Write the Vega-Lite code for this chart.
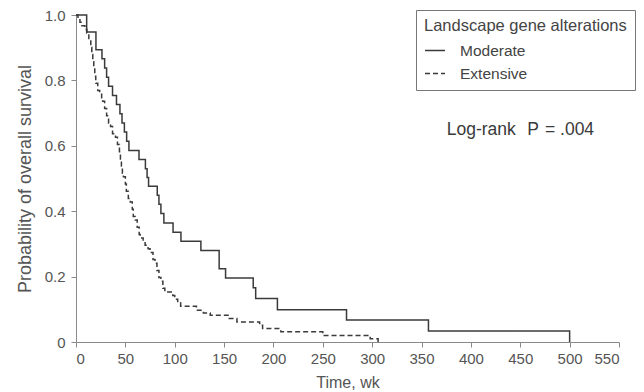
{
  "$schema": "https://vega.github.io/schema/vega-lite/v6.json",
  "width": 543,
  "height": 327,
  "autosize": {"type": "none"},
  "padding": {"left": 76, "top": 15, "right": 25, "bottom": 50},
  "background": "white",
  "config": {
    "view": {"stroke": null},
    "font": "Liberation Sans",
    "axis": {
      "grid": false,
      "domainColor": "#8a8a8a",
      "tickColor": "#8a8a8a",
      "labelColor": "#555555",
      "titleColor": "#555555",
      "labelFontSize": 15,
      "titleFontSize": 16,
      "titleFontWeight": "normal",
      "tickSize": 5
    },
    "legend": {
      "titleFontWeight": "normal",
      "titleFontSize": 16.5,
      "labelFontSize": 15.5,
      "titleColor": "#444444",
      "labelColor": "#444444",
      "titleLimit": 400,
      "labelLimit": 300
    }
  },
  "layer": [
    {
      "data": {
        "values": [
          {"group": "Moderate", "t": 0, "p": 1.0},
          {"group": "Moderate", "t": 10.8, "p": 0.948},
          {"group": "Moderate", "t": 20.2, "p": 0.894},
          {"group": "Moderate", "t": 26.3, "p": 0.866},
          {"group": "Moderate", "t": 29, "p": 0.838},
          {"group": "Moderate", "t": 31, "p": 0.81},
          {"group": "Moderate", "t": 33, "p": 0.782},
          {"group": "Moderate", "t": 37, "p": 0.754},
          {"group": "Moderate", "t": 41, "p": 0.726},
          {"group": "Moderate", "t": 44.5, "p": 0.698},
          {"group": "Moderate", "t": 46.6, "p": 0.67},
          {"group": "Moderate", "t": 49, "p": 0.642},
          {"group": "Moderate", "t": 51.3, "p": 0.614},
          {"group": "Moderate", "t": 53.6, "p": 0.586},
          {"group": "Moderate", "t": 63.8, "p": 0.558},
          {"group": "Moderate", "t": 70.3, "p": 0.53},
          {"group": "Moderate", "t": 72, "p": 0.503},
          {"group": "Moderate", "t": 73.5, "p": 0.476},
          {"group": "Moderate", "t": 82.3, "p": 0.449},
          {"group": "Moderate", "t": 84, "p": 0.421},
          {"group": "Moderate", "t": 86, "p": 0.393},
          {"group": "Moderate", "t": 89, "p": 0.364},
          {"group": "Moderate", "t": 98.3, "p": 0.336},
          {"group": "Moderate", "t": 106.3, "p": 0.308},
          {"group": "Moderate", "t": 126.5, "p": 0.28},
          {"group": "Moderate", "t": 145, "p": 0.224},
          {"group": "Moderate", "t": 151.5, "p": 0.196},
          {"group": "Moderate", "t": 179.5, "p": 0.166},
          {"group": "Moderate", "t": 182, "p": 0.133},
          {"group": "Moderate", "t": 204, "p": 0.099},
          {"group": "Moderate", "t": 274, "p": 0.067},
          {"group": "Moderate", "t": 357, "p": 0.034},
          {"group": "Moderate", "t": 500, "p": 0.0},
          {"group": "Extensive", "t": 0, "p": 1.0},
          {"group": "Extensive", "t": 2, "p": 0.989},
          {"group": "Extensive", "t": 4, "p": 0.978},
          {"group": "Extensive", "t": 6, "p": 0.967},
          {"group": "Extensive", "t": 9, "p": 0.956},
          {"group": "Extensive", "t": 11, "p": 0.945},
          {"group": "Extensive", "t": 13, "p": 0.923},
          {"group": "Extensive", "t": 15, "p": 0.901},
          {"group": "Extensive", "t": 16, "p": 0.879},
          {"group": "Extensive", "t": 17, "p": 0.857},
          {"group": "Extensive", "t": 18, "p": 0.835},
          {"group": "Extensive", "t": 19, "p": 0.813},
          {"group": "Extensive", "t": 20, "p": 0.791},
          {"group": "Extensive", "t": 22, "p": 0.769},
          {"group": "Extensive", "t": 24, "p": 0.758},
          {"group": "Extensive", "t": 26, "p": 0.747},
          {"group": "Extensive", "t": 27, "p": 0.736},
          {"group": "Extensive", "t": 29, "p": 0.714},
          {"group": "Extensive", "t": 31, "p": 0.692},
          {"group": "Extensive", "t": 33, "p": 0.67},
          {"group": "Extensive", "t": 35, "p": 0.659},
          {"group": "Extensive", "t": 37, "p": 0.637},
          {"group": "Extensive", "t": 40, "p": 0.626},
          {"group": "Extensive", "t": 42, "p": 0.604},
          {"group": "Extensive", "t": 44, "p": 0.582},
          {"group": "Extensive", "t": 45, "p": 0.56},
          {"group": "Extensive", "t": 46, "p": 0.538},
          {"group": "Extensive", "t": 47, "p": 0.516},
          {"group": "Extensive", "t": 48, "p": 0.505},
          {"group": "Extensive", "t": 50, "p": 0.483},
          {"group": "Extensive", "t": 51, "p": 0.461},
          {"group": "Extensive", "t": 53, "p": 0.439},
          {"group": "Extensive", "t": 55, "p": 0.428},
          {"group": "Extensive", "t": 57, "p": 0.406},
          {"group": "Extensive", "t": 58, "p": 0.384},
          {"group": "Extensive", "t": 60, "p": 0.373},
          {"group": "Extensive", "t": 62, "p": 0.351},
          {"group": "Extensive", "t": 64, "p": 0.329},
          {"group": "Extensive", "t": 65, "p": 0.318},
          {"group": "Extensive", "t": 68, "p": 0.307},
          {"group": "Extensive", "t": 70, "p": 0.296},
          {"group": "Extensive", "t": 73, "p": 0.285},
          {"group": "Extensive", "t": 75, "p": 0.274},
          {"group": "Extensive", "t": 78, "p": 0.252},
          {"group": "Extensive", "t": 80, "p": 0.241},
          {"group": "Extensive", "t": 82, "p": 0.219},
          {"group": "Extensive", "t": 84, "p": 0.197},
          {"group": "Extensive", "t": 86, "p": 0.186},
          {"group": "Extensive", "t": 88, "p": 0.164},
          {"group": "Extensive", "t": 90, "p": 0.153},
          {"group": "Extensive", "t": 98, "p": 0.142},
          {"group": "Extensive", "t": 100, "p": 0.131},
          {"group": "Extensive", "t": 103, "p": 0.12},
          {"group": "Extensive", "t": 106, "p": 0.109},
          {"group": "Extensive", "t": 122, "p": 0.097},
          {"group": "Extensive", "t": 129, "p": 0.089},
          {"group": "Extensive", "t": 136, "p": 0.082},
          {"group": "Extensive", "t": 154, "p": 0.072},
          {"group": "Extensive", "t": 163, "p": 0.061},
          {"group": "Extensive", "t": 186, "p": 0.051},
          {"group": "Extensive", "t": 189, "p": 0.041},
          {"group": "Extensive", "t": 207.5, "p": 0.031},
          {"group": "Extensive", "t": 250, "p": 0.02},
          {"group": "Extensive", "t": 298, "p": 0.01},
          {"group": "Extensive", "t": 306, "p": 0.0}
        ]
      },
      "mark": {"type": "line", "interpolate": "step-after", "color": "#3a3a3a", "strokeWidth": 1.5},
      "encoding": {
        "x": {
          "field": "t", "type": "quantitative",
          "scale": {"domain": [0, 550], "nice": false, "zero": true},
          "axis": {"values": [0, 50, 100, 150, 200, 250, 300, 350, 400, 450, 500, 550], "title": "Time, wk", "titlePadding": 8, "labelPadding": 4}
        },
        "y": {
          "field": "p", "type": "quantitative",
          "scale": {"domain": [0, 1], "nice": false},
          "axis": {
            "values": [0, 0.1, 0.2, 0.3, 0.4, 0.5, 0.6, 0.7, 0.8, 0.9, 1.0],
            "labelExpr": "datum.value == 0 ? '0' : (round(datum.value * 10) % 2 == 0 ? format(datum.value, '.1f') : '')",
            "title": "Probability of overall survival",
            "titleFontSize": 18,
            "titlePadding": 10,
            "labelPadding": 6
          }
        },
        "strokeDash": {
          "field": "group", "type": "nominal",
          "scale": {"domain": ["Moderate", "Extensive"], "range": [[1, 0], [5, 3]]},
          "legend": {
            "title": "Landscape gene alterations",
            "orient": "none",
            "legendX": 340,
            "legendY": -5,
            "padding": 8,
            "strokeColor": "#777777",
            "fillColor": "white",
            "symbolType": "stroke",
            "symbolSize": 400,
            "symbolStrokeWidth": 1.5,
            "symbolStrokeColor": "#3a3a3a",
            "rowPadding": 3,
            "labelOffset": 14,
            "titlePadding": 5
          }
        }
      }
    },
    {
      "data": {"values": [{"t": 375.5, "p": 0.647, "label": "Log-rank"}, {"t": 457, "p": 0.647, "label": "P"}, {"t": 475, "p": 0.647, "label": "= .004"}]},
      "mark": {"type": "text", "align": "left", "baseline": "middle", "fontSize": 17.5, "color": "#3a3a3a"},
      "encoding": {
        "x": {"field": "t", "type": "quantitative"},
        "y": {"field": "p", "type": "quantitative"},
        "text": {"field": "label"},
        "fontStyle": {"condition": {"test": "datum.label == 'P'", "value": "italic"}, "value": "normal"}
      }
    }
  ]
}
